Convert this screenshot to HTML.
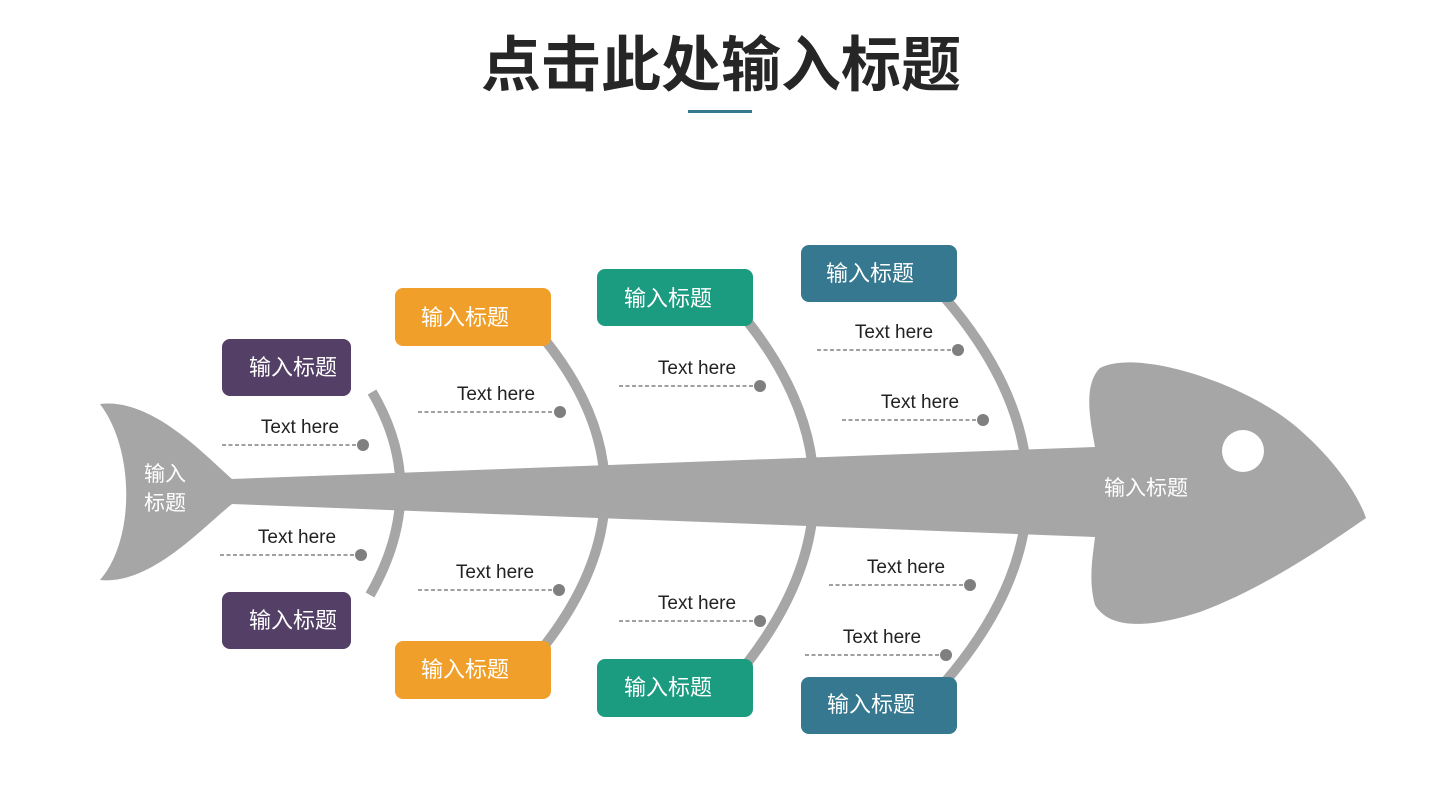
<!DOCTYPE html>
<html><head><meta charset="utf-8"><style>
body{margin:0;background:#fff;}
svg{display:block}
text{font-family:"Liberation Sans","Noto Sans CJK SC",sans-serif}
</style></head><body>
<svg width="1440" height="810" viewBox="0 0 1440 810">
<text x="721" y="86" text-anchor="middle" font-size="60" font-weight="bold" fill="#262626" font-family="'Noto Sans CJK SC',sans-serif">点击此处输入标题</text>
<rect x="688" y="110" width="64" height="3" fill="#36788f"/>
<g fill="#a6a6a6">
<path d="M100,404 C150,398 200,450 232,479 L1095,447 C1090,420 1083,385 1100,368 C1140,348 1250,385 1300,430 C1340,465 1360,500 1366,518 C1320,550 1260,590 1200,612 C1150,628 1110,630 1095,605 C1088,580 1093,555 1095,537 L232,504 C200,530 150,585 100,580 C135,540 135,450 100,404 Z"/>
</g>
<circle cx="1243" cy="451" r="21" fill="#fff"/>
<g fill="none" stroke="#a6a6a6" stroke-width="10">
<path d="M372,392 Q430,490 370,595"/>
<path d="M545,340 Q665,490 545,645"/>
<path d="M748,322 Q880,490 748,662"/>
<path d="M945,298 Q1110,490 945,682"/>
</g>
<g fill="#fff" font-size="21" text-anchor="middle">
<text x="165" y="481">输入</text><text x="165" y="510">标题</text>
<text x="1146" y="495">输入标题</text>
</g>
<g>
<rect x="222" y="339" width="129" height="57" rx="8" fill="#543f66"/>
<rect x="222" y="592" width="129" height="57" rx="8" fill="#543f66"/>
<rect x="395" y="288" width="156" height="58" rx="8" fill="#f0a02a"/>
<rect x="395" y="641" width="156" height="58" rx="8" fill="#f0a02a"/>
<rect x="597" y="269" width="156" height="57" rx="8" fill="#1b9b80"/>
<rect x="597" y="659" width="156" height="58" rx="8" fill="#1b9b80"/>
<rect x="801" y="245" width="156" height="57" rx="8" fill="#36788f"/>
<rect x="801" y="677" width="156" height="57" rx="8" fill="#36788f"/>
</g>
<g fill="#fff" font-size="22" text-anchor="middle">
<text x="293" y="375">输入标题</text>
<text x="293" y="628">输入标题</text>
<text x="465" y="325">输入标题</text>
<text x="465" y="677">输入标题</text>
<text x="668" y="306">输入标题</text>
<text x="668" y="695">输入标题</text>
<text x="870" y="281">输入标题</text>
<text x="871" y="712">输入标题</text>
</g>
<g stroke="#808080" stroke-width="1.5" stroke-dasharray="4,2.5">
<line x1="222" y1="445" x2="363" y2="445"/>
<line x1="220" y1="555" x2="361" y2="555"/>
<line x1="418" y1="412" x2="560" y2="412"/>
<line x1="418" y1="590" x2="559" y2="590"/>
<line x1="619" y1="386" x2="760" y2="386"/>
<line x1="619" y1="621" x2="760" y2="621"/>
<line x1="817" y1="350" x2="958" y2="350"/>
<line x1="842" y1="420" x2="983" y2="420"/>
<line x1="829" y1="585" x2="970" y2="585"/>
<line x1="805" y1="655" x2="946" y2="655"/>
</g>
<g fill="#7f7f7f">
<circle cx="363" cy="445" r="6"/><circle cx="361" cy="555" r="6"/>
<circle cx="560" cy="412" r="6"/><circle cx="559" cy="590" r="6"/>
<circle cx="760" cy="386" r="6"/><circle cx="760" cy="621" r="6"/>
<circle cx="958" cy="350" r="6"/><circle cx="983" cy="420" r="6"/>
<circle cx="970" cy="585" r="6"/><circle cx="946" cy="655" r="6"/>
</g>
<g fill="#222" font-size="19" text-anchor="middle">
<text x="300" y="433">Text here</text>
<text x="297" y="543">Text here</text>
<text x="496" y="400">Text here</text>
<text x="495" y="578">Text here</text>
<text x="697" y="374">Text here</text>
<text x="697" y="609">Text here</text>
<text x="894" y="338">Text here</text>
<text x="920" y="408">Text here</text>
<text x="906" y="573">Text here</text>
<text x="882" y="643">Text here</text>
</g>
</svg>
</body></html>
